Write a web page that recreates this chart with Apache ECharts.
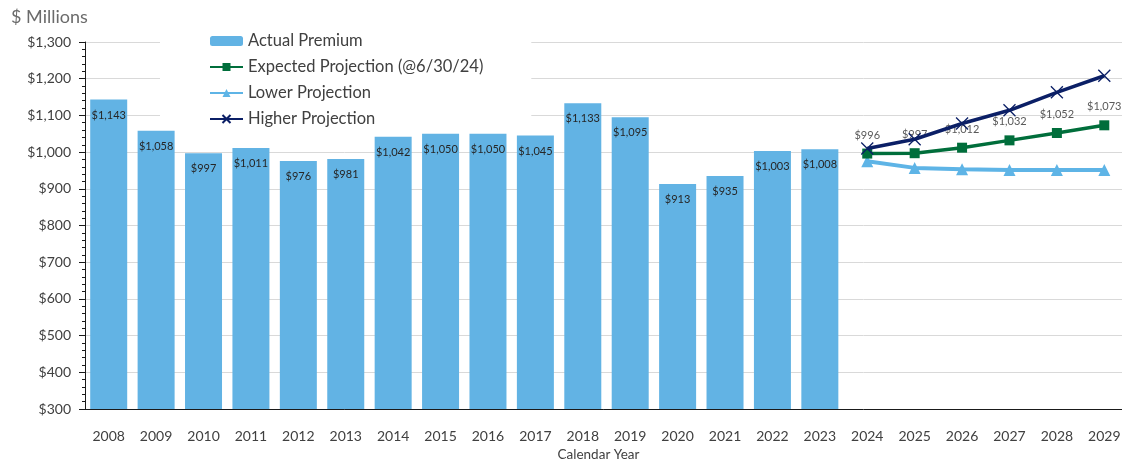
<!DOCTYPE html>
<html>
<head>
<meta charset="utf-8">
<script src="https://cdn.jsdelivr.net/npm/echarts@6/dist/echarts.min.js"></script>
<style>
  html, body { margin: 0; padding: 0; background: #fff; }
  #chart { width: 1122px; height: 464px; }
</style>
</head>
<body>
<div id="chart"></div>
<script>
// years on the x axis
const years = ['2008', '2009', '2010', '2011', '2012', '2013', '2014', '2015', '2016', '2017',
  '2018', '2019', '2020', '2021', '2022', '2023', '2024', '2025', '2026', '2027', '2028', '2029'];

// actual premium 2008-2023
const actualPremium = [1143, 1058, 997, 1011, 976, 981, 1042, 1050, 1050, 1045, 1133, 1095, 913, 935, 1003, 1008];

// projections 2024-2029
const expectedProj = [996, 997, 1012, 1032, 1052, 1073];
const lowerProj = [975, 957, 953, 951, 951, 951];
const higherProj = [1010, 1035, 1078, 1114, 1163, 1208];

const yTicks = { min: 300, max: 1300, step: 100 };

const fontFamily = 'Lato, "Liberation Sans", sans-serif';
const money = v => '$' + Number(v).toLocaleString('en-US');

// pad projection series so they start at 2024
const projOffset = years.length - expectedProj.length;
const pad = arr => Array(projOffset).fill('-').concat(arr);

const chart = echarts.init(document.getElementById('chart'));
chart.setOption({
  animation: false,
  textStyle: { fontFamily: fontFamily },
  title: {
    text: '$ Millions',
    left: 6,
    top: 3,
    textStyle: { fontFamily: fontFamily, fontSize: 18, fontWeight: 'normal', color: '#6b6b6b' }
  },
  legend: {
    orient: 'vertical',
    left: 160,
    top: 28,
    padding: [4, 48, 0, 49],
    backgroundColor: '#fff',
    itemWidth: 33,
    itemHeight: 10,
    itemGap: 8,
    textStyle: { fontFamily: fontFamily, fontSize: 16.5, color: '#404040', lineHeight: 18 },
    data: ['Actual Premium', 'Expected Projection (@6/30/24)', 'Lower Projection', 'Higher Projection']
  },
  grid: { left: 85, top: 42, width: 1043, bottom: 55, outerBoundsMode: 'none' },
  xAxis: {
    type: 'category',
    data: years,
    name: 'Calendar Year',
    nameLocation: 'middle',
    nameGap: 38,
    nameTextStyle: { fontFamily: fontFamily, fontSize: 13.5, color: '#404040', padding: [0, 16, 0, 0] },
    axisLine: { lineStyle: { color: '#1a1a1a', width: 1 } },
    axisTick: { length: 7, lineStyle: { color: '#1a1a1a' } },
    axisLabel: { fontFamily: fontFamily, fontSize: 14, color: '#404040', margin: 20, interval: 0 }
  },
  yAxis: {
    type: 'value',
    min: yTicks.min,
    max: yTicks.max,
    interval: yTicks.step,
    axisLine: { show: true, lineStyle: { color: '#1a1a1a', width: 1 } },
    axisTick: { show: true, length: 6, lineStyle: { color: '#1a1a1a' } },
    minorTick: { show: true, splitNumber: 5, length: 3, lineStyle: { color: '#1a1a1a' } },
    splitLine: { lineStyle: { color: '#d9d9d9' } },
    axisLabel: { fontFamily: fontFamily, fontSize: 14, color: '#404040', margin: 14, formatter: money }
  },
  series: [
    {
      name: 'Actual Premium',
      type: 'bar',
      data: actualPremium,
      barWidth: 37,
      itemStyle: { color: '#62b3e4' },
      label: {
        show: true,
        position: 'insideTop',
        distance: 10,
        fontFamily: fontFamily,
        fontSize: 11,
        color: '#262626',
        formatter: p => money(p.value)
      }
    },
    {
      name: 'Expected Projection (@6/30/24)',
      type: 'line',
      data: pad(expectedProj),
      symbol: 'rect',
      symbolSize: 10,
      lineStyle: { color: '#006e3b', width: 3.5 },
      itemStyle: { color: '#006e3b' },
      z: 4,
      label: {
        show: true,
        position: 'top',
        distance: 8,
        fontFamily: fontFamily,
        fontSize: 11,
        color: '#595959',
        formatter: p => money(p.value)
      }
    },
    {
      name: 'Lower Projection',
      type: 'line',
      data: pad(lowerProj),
      symbol: 'triangle',
      symbolSize: 12,
      lineStyle: { color: '#5eb4e6', width: 4 },
      itemStyle: { color: '#5eb4e6' },
      z: 3
    },
    {
      name: 'Higher Projection',
      type: 'line',
      data: pad(higherProj),
      symbol: 'path://M0,0L10,10M10,0L0,10',
      symbolSize: 12,
      lineStyle: { color: '#0b1f66', width: 3.5 },
      itemStyle: { color: '#0b1f66', borderColor: '#0b1f66', borderWidth: 1.3 },
      z: 5
    }
  ]
});
</script>
</body>
</html>
